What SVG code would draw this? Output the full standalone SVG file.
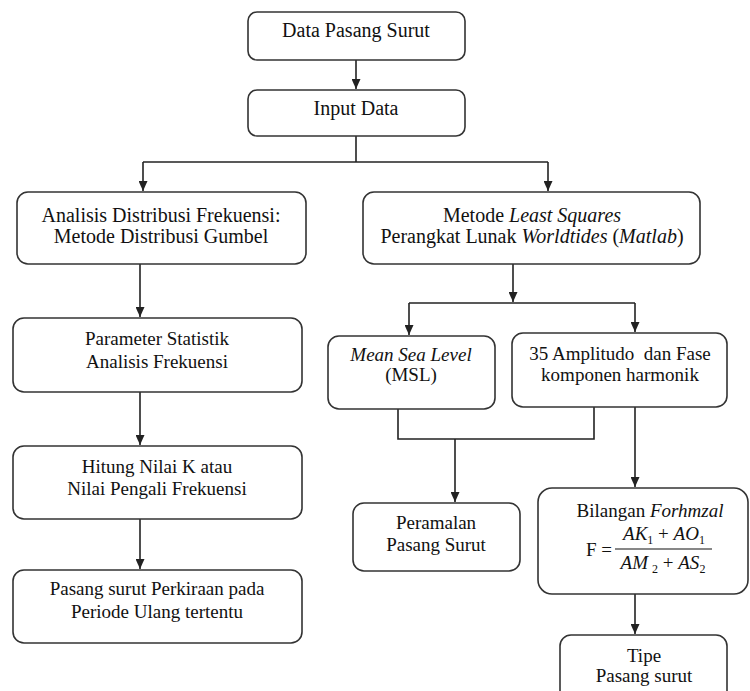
<svg xmlns="http://www.w3.org/2000/svg" width="750" height="691" viewBox="0 0 750 691" font-family="Liberation Serif, Tinos, DejaVu Serif, serif">
<style>
  .box{fill:#ffffff;stroke:#333333;stroke-width:1.6}
  .t{font-size:19px;fill:#111111;text-anchor:middle}
  .t20{font-size:20px}
  .i{font-style:italic}
  .c{fill:none;stroke:#222222;stroke-width:1.6}
  .sub{font-size:12px;font-style:normal}
</style>
<defs>
  <marker id="ah" markerUnits="userSpaceOnUse" markerWidth="10" markerHeight="9" refX="10" refY="4.5" orient="auto">
    <path d="M0,0 L10,4.5 L0,9 z" fill="#222222"/>
  </marker>
</defs>
<rect width="750" height="691" fill="#ffffff"/>

<g id="connectors">
  <path class="c" d="M356,60 V89" marker-end="url(#ah)"/>
  <path class="c" d="M356,136 V162"/>
  <path class="c" d="M143,162 H548"/>
  <path class="c" d="M143,162 V191" marker-end="url(#ah)"/>
  <path class="c" d="M548,162 V191" marker-end="url(#ah)"/>
  <path class="c" d="M140,264 V317" marker-end="url(#ah)"/>
  <path class="c" d="M140,392 V445" marker-end="url(#ah)"/>
  <path class="c" d="M140,519 V569" marker-end="url(#ah)"/>
  <path class="c" d="M513,264 V302" marker-end="url(#ah)"/>
  <path class="c" d="M409,303 H635"/>
  <path class="c" d="M409,303 V335" marker-end="url(#ah)"/>
  <path class="c" d="M635,303 V332" marker-end="url(#ah)"/>
  <path class="c" d="M398,409 V439 H594 V407"/>
  <path class="c" d="M455,439 V502" marker-end="url(#ah)"/>
  <path class="c" d="M635,407 V487" marker-end="url(#ah)"/>
  <path class="c" d="M635,594 V634" marker-end="url(#ah)"/>
</g>

<g id="n-data">
  <rect class="box" x="248" y="12" width="217" height="48" rx="9"/>
  <text class="t t20" x="356" y="37">Data Pasang Surut</text>
</g>

<g id="n-input">
  <rect class="box" x="248" y="90" width="217" height="46" rx="9"/>
  <text class="t t20" x="356" y="115">Input Data</text>
</g>

<g id="n-analisis">
  <rect class="box" x="17" y="192" width="289" height="72" rx="11"/>
  <text class="t t20" x="161" y="222">Analisis Distribusi Frekuensi:</text>
  <text class="t t20" x="161" y="243">Metode Distribusi Gumbel</text>
</g>

<g id="n-metode">
  <rect class="box" x="363" y="192" width="337" height="72" rx="11"/>
  <text class="t t20" x="532" y="222">Metode <tspan class="i">Least Squares</tspan></text>
  <text class="t t20" x="532" y="243">Perangkat Lunak <tspan class="i">Worldtides</tspan> (<tspan class="i">Matlab</tspan>)</text>
</g>

<g id="n-parameter">
  <rect class="box" x="13" y="318" width="289" height="74" rx="11"/>
  <text class="t" x="157" y="345">Parameter Statistik</text>
  <text class="t" x="157" y="368">Analisis Frekuensi</text>
</g>

<g id="n-hitung">
  <rect class="box" x="13" y="446" width="289" height="73" rx="11"/>
  <text class="t" x="157" y="473">Hitung Nilai K atau</text>
  <text class="t" x="157" y="495">Nilai Pengali Frekuensi</text>
</g>

<g id="n-pasang-perkiraan">
  <rect class="box" x="13" y="570" width="289" height="73" rx="11"/>
  <text class="t" x="157" y="595">Pasang surut Perkiraan pada</text>
  <text class="t" x="157" y="618">Periode Ulang tertentu</text>
</g>

<g id="n-msl">
  <rect class="box" x="328" y="336" width="167" height="73" rx="11"/>
  <text class="t" x="411" y="361"><tspan class="i">Mean Sea Level</tspan></text>
  <text class="t" x="411" y="381">(MSL)</text>
</g>

<g id="n-amplitudo">
  <rect class="box" x="512" y="333" width="215" height="74" rx="11"/>
  <text class="t" x="620" y="360" xml:space="preserve">35 Amplitudo  dan Fase</text>
  <text class="t" x="620" y="381">komponen harmonik</text>
</g>

<g id="n-peramalan">
  <rect class="box" x="353" y="503" width="167" height="68" rx="11"/>
  <text class="t" x="436" y="529">Peramalan</text>
  <text class="t" x="436" y="551">Pasang Surut</text>
</g>

<g id="n-bilangan">
  <rect class="box" x="538" y="488" width="210" height="106" rx="14"/>
  <text class="t" x="650" y="517">Bilangan <tspan class="i">Forhmzal</tspan></text>
  <text class="t" x="599" y="556">F =</text>
  <text class="t i" x="664" y="540">AK<tspan class="sub" dy="4">1</tspan><tspan dy="-4" style="font-style:normal"> + </tspan>AO<tspan class="sub" dy="4">1</tspan></text>
  <line x1="615" y1="549" x2="712" y2="549" stroke="#111111" stroke-width="1.2"/>
  <text class="t i" x="663" y="569">AM<tspan class="sub" dx="4" dy="4">2</tspan><tspan dy="-4" style="font-style:normal"> + </tspan>AS<tspan class="sub" dy="4">2</tspan></text>
</g>

<g id="n-tipe">
  <rect class="box" x="560" y="635" width="167" height="70" rx="11"/>
  <text class="t" x="644" y="662">Tipe</text>
  <text class="t" x="644" y="682">Pasang surut</text>
</g>
</svg>
